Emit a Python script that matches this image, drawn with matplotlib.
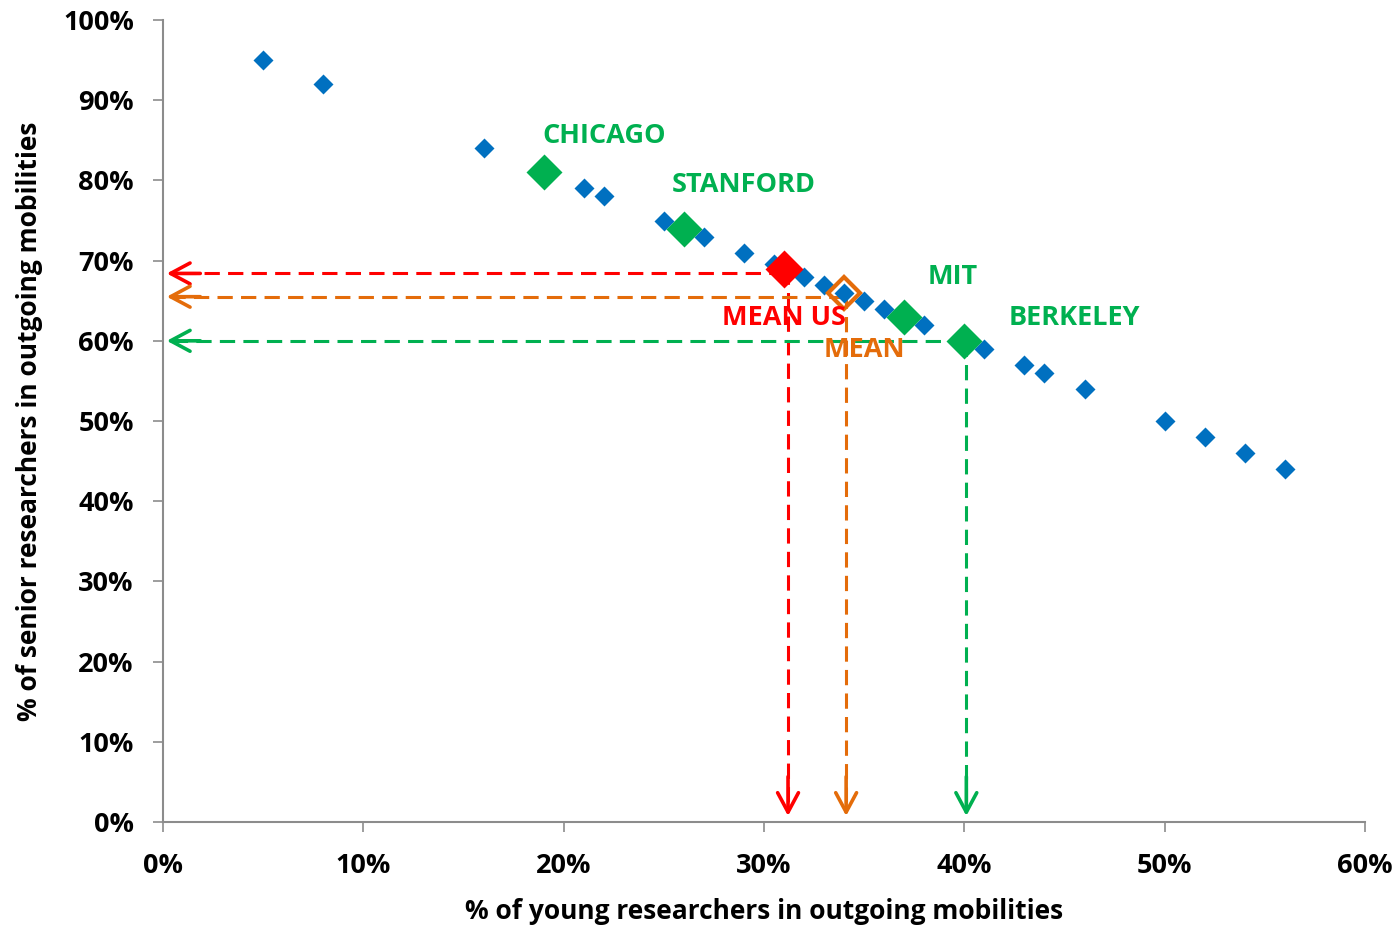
import matplotlib
matplotlib.use('Agg')
import matplotlib.pyplot as plt
from matplotlib.ticker import PercentFormatter

# universities (blue)
young = [5, 8, 16, 21, 22, 25, 27, 29, 30.5, 32, 33, 34, 35, 36, 38, 41, 43, 44, 46, 50, 52, 54, 56]
senior = [95, 92, 84, 79, 78, 75, 73, 71, 69.6, 68, 67, 66, 65, 64, 62, 59, 57, 56, 54, 50, 48, 46, 44]

# highlighted universities (green)
top_names = ["CHICAGO", "STANFORD", "MIT", "BERKELEY"]
top_young = [19, 26, 37, 40]
top_senior = [81, 74, 63, 60]

# means
mean_us = (31, 69)
mean_all = (34, 66)

# arrow targets
arrow_red = (31.2, 68.4)
arrow_orange = (34.1, 65.5)
arrow_green = (40.1, 60)

BLUE = '#0070C0'
GREEN = '#00B050'
RED = '#FF0000'
ORANGE = '#E46C0A'
GRAY = '#8C8C8C'

plt.rcParams['font.family'] = ['Open Sans', 'DejaVu Sans']
plt.rcParams['font.weight'] = 'bold'

fig = plt.figure(figsize=(13.99, 9.27), dpi=100)
ax = fig.add_axes([0.1165, 0.1133, 0.8592, 0.8651])

head = '->,head_length=1.4,head_width=0.75'


def guide(x, y, color, x0, y0):
    # dashed lines from the point to both axes, with open arrow heads
    ax.plot([x0, 0.5], [y, y], color=color, lw=2.2, ls=(0, (5, 2.7)), clip_on=False, zorder=2)
    ax.plot([x, x], [y0, 2.5], color=color, lw=2.2, ls=(0, (5, 2.7)), clip_on=False, zorder=2)
    ax.annotate('', xy=(0.05, y), xytext=(2.0, y),
                arrowprops=dict(arrowstyle=head, color=color, lw=2.6),
                annotation_clip=False, zorder=2)
    ax.annotate('', xy=(x, 0.4), xytext=(x, 6),
                arrowprops=dict(arrowstyle=head, color=color, lw=2.6),
                annotation_clip=False, zorder=2)


guide(arrow_red[0], arrow_red[1], RED, mean_us[0], mean_us[1])
guide(arrow_orange[0], arrow_orange[1], ORANGE, mean_all[0], mean_all[1])
guide(arrow_green[0], arrow_green[1], GREEN, top_young[3], top_senior[3])

ax.plot(young, senior, 'D', color=BLUE, ms=10, mec='none', zorder=3)
ax.plot(top_young, top_senior, 'D', color=GREEN, ms=18.5, mec='none', zorder=4)
ax.plot(*mean_us, 'D', color=RED, ms=19, mec='none', zorder=4)
ax.plot(*mean_all, 'D', color='none', ms=16.5, mec=ORANGE, mew=3, zorder=4)

lbl = dict(fontsize=19.5, fontweight='bold', ha='center', va='center')
label_pos = [(22, 85.5), (29, 79.4), (39.4, 68.0), (45.5, 62.8)]
for name, (lx, ly) in zip(top_names, label_pos):
    ax.text(lx, ly, name, color=GREEN, **lbl)
ax.text(31, 62.9, "MEAN US", color=RED, zorder=5, **lbl)
ax.text(35, 58.8, "MEAN", color=ORANGE, zorder=5, **lbl)

ax.set_xlim(0, 60)
ax.set_ylim(0, 100)
ax.set_xticks(range(0, 61, 10))
ax.set_yticks(range(0, 101, 10))
ax.xaxis.set_major_formatter(PercentFormatter(decimals=0))
ax.yaxis.set_major_formatter(PercentFormatter(decimals=0))

for s in ['top', 'right']:
    ax.spines[s].set_visible(False)
for s in ['left', 'bottom']:
    ax.spines[s].set_color(GRAY)
    ax.spines[s].set_linewidth(1.5)

ax.tick_params(axis='both', colors=GRAY, length=7, width=1.2, direction='out', labelcolor='black', labelsize=19.5)
ax.tick_params(axis='y', pad=14)
ax.tick_params(axis='x', pad=15)

ax.set_xlabel('% of young researchers in outgoing mobilities', fontsize=19, fontweight='bold', labelpad=14)
ax.set_ylabel('% of senior researchers in outgoing mobilities', fontsize=19, fontweight='bold', labelpad=14)

plt.savefig('out.png', dpi=100)
plt.close()
